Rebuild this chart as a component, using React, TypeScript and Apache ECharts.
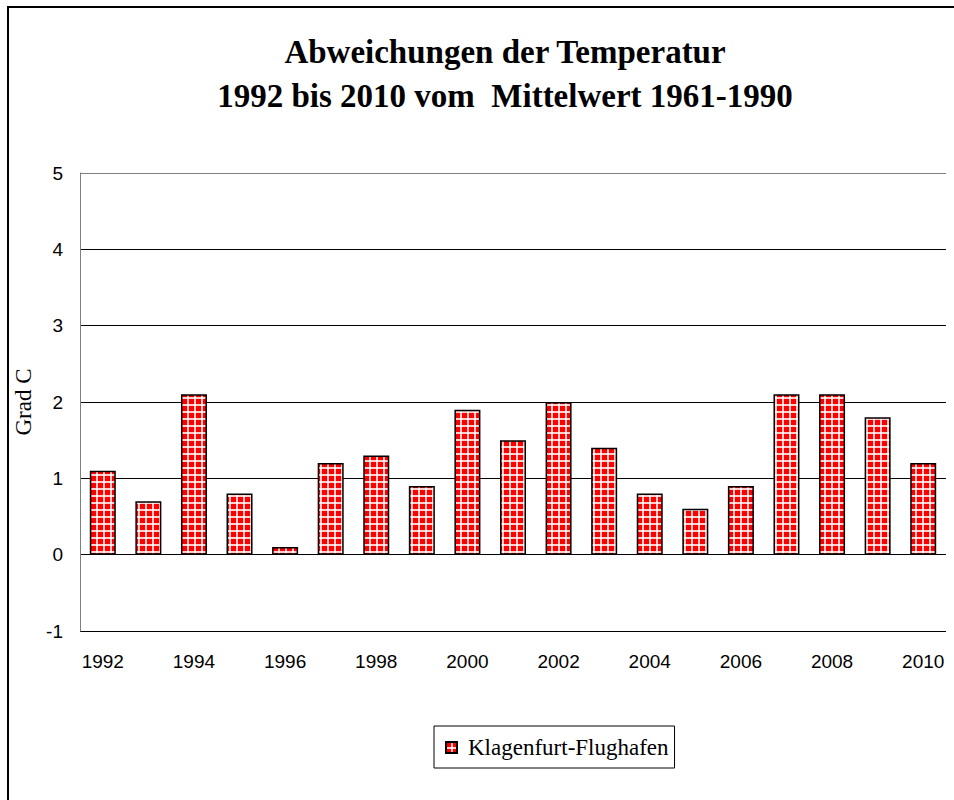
import React, { useEffect, useRef } from "react";
import * as echarts from "echarts";

const years = ["1992","1993","1994","1995","1996","1997","1998","1999","2000","2001","2002","2003","2004","2005","2006","2007","2008","2009","2010"];
const deviations = [1.1, 0.7, 2.1, 0.8, 0.1, 1.2, 1.3, 0.9, 1.9, 1.5, 2.0, 1.4, 0.8, 0.6, 0.9, 2.1, 2.1, 1.8, 1.2];
const seriesName = "Klagenfurt-Flughafen";
const titleText = "Abweichungen der Temperatur\n1992 bis 2010 vom  Mittelwert 1961-1990";
const yAxisName = "Grad C";

const tileSvg =
  '<svg xmlns="http://www.w3.org/2000/svg" width="7" height="7">' +
  '<rect width="7" height="7" fill="#ff0000"/>' +
  '<rect x="5" y="0" width="2" height="7" fill="#ffffff" fill-opacity="0.8"/>' +
  '<rect x="0" y="5" width="7" height="2" fill="#ffffff" fill-opacity="0.8"/>' +
  "</svg>";
const tileUrl = "data:image/svg+xml;charset=utf-8," + encodeURIComponent(tileSvg);

export default function App() {
  const ref = useRef<HTMLDivElement>(null);
  useEffect(() => {
    if (!ref.current) return;
    const chart = echarts.init(ref.current, null, { renderer: "svg" });
    const pattern: any = { image: tileUrl, repeat: "repeat", imageWidth: 7, imageHeight: 7 };
    chart.setOption({
      animation: false,
      backgroundColor: "#ffffff",
      title: {
        text: titleText,
        left: 500,
        textAlign: "center",
        top: 25,
        textStyle: {
          fontFamily: "'Liberation Serif', 'Times New Roman', serif",
          fontWeight: "bold",
          fontSize: 33,
          lineHeight: 44,
          color: "#000",
        },
      },
      grid: { left: 80, right: 8, top: 173, bottom: 169, containLabel: false },
      xAxis: {
        type: "category",
        data: years,
        axisLine: { show: false },
        axisTick: { show: false },
        axisLabel: {
          interval: 1,
          margin: 21,
          fontFamily: "'Liberation Sans', Arial, sans-serif",
          fontSize: 19,
          color: "#000",
        },
      },
      yAxis: {
        type: "value",
        min: -1,
        max: 5,
        interval: 1,
        name: yAxisName,
        nameLocation: "middle",
        nameRotate: 90,
        nameGap: 36,
        nameTextStyle: {
          fontFamily: "'Liberation Serif', 'Times New Roman', serif",
          fontSize: 23,
          color: "#000",
        },
        axisLine: { show: true, lineStyle: { color: "#808080", width: 1 } },
        axisTick: { show: false },
        axisLabel: {
          margin: 17,
          fontFamily: "'Liberation Sans', Arial, sans-serif",
          fontSize: 19,
          color: "#000",
        },
        splitLine: {
          show: true,
          lineStyle: {
            color: ["#000", "#000", "#000", "#000", "#000", "#000", "#808080"],
            width: 1,
          },
        },
      },
      legend: {
        left: 434,
        top: 726,
        orient: "horizontal",
        padding: [10, 6, 9, 11],
        borderColor: "#000",
        borderWidth: 1,
        itemWidth: 11,
        itemHeight: 11,
        data: [{ name: seriesName, icon: "rect" }],
        textStyle: {
          fontFamily: "'Liberation Serif', 'Times New Roman', serif",
          fontSize: 23,
          color: "#000",
          padding: [0, 0, 0, 6],
        },
      },
      series: [
        {
          name: seriesName,
          type: "bar",
          data: deviations,
          barWidth: 26,
          itemStyle: {
            color: pattern,
            borderColor: "#000",
            borderWidth: 1.5,
          },
        },
      ],
      graphic: [
        {
          type: "rect",
          shape: { x: 8, y: 7, width: 1200, height: 1200 },
          style: { fill: "none", stroke: "#000", lineWidth: 2 },
          silent: true,
        },
      ],
    });
    return () => chart.dispose();
  }, []);
  return (
    <div
      ref={ref}
      style={{ position: "absolute", left: 0, top: 0, width: 954, height: 800 }}
    />
  );
}
